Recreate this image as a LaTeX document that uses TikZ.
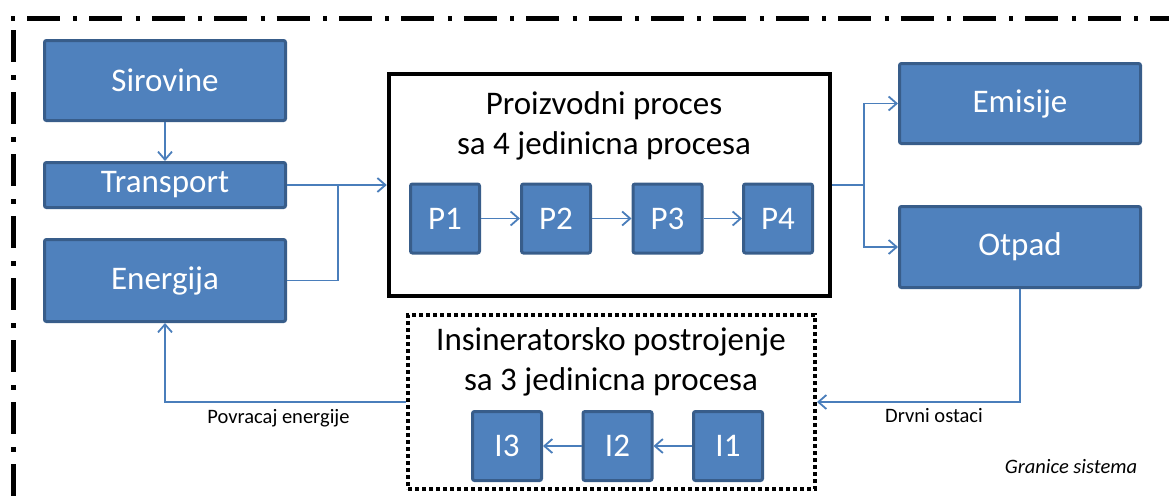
\documentclass[tikz,border=0pt]{standalone}
\usepackage{fontspec}
\setmainfont{Carlito}
\usetikzlibrary{arrows.meta}
\definecolor{boxfill}{HTML}{4F81BD}
\definecolor{boxedge}{HTML}{385D8A}
\definecolor{connblue}{HTML}{4A7EBB}
\begin{document}
\begin{tikzpicture}[x=1pt,y=-1pt,
  bluebox/.style={draw=boxedge, line width=3pt, fill=boxfill, text=white,
    font=\fontsize{33}{39}\selectfont, rounded corners=2pt, inner sep=0pt},
  bigbox/.style={bluebox, minimum width=241pt},
  smallbox/.style={bluebox, minimum width=69pt, minimum height=69pt},
  conn/.style={draw=connblue, line width=1.8pt, -{Straight Barb[length=8pt,width=14pt]}},
  plainconn/.style={draw=connblue, line width=1.8pt},
  title/.style={align=center, inner sep=0pt, font=\fontsize{33}{39.5}\selectfont},
  smalllabel/.style={inner sep=0pt, font=\fontsize{20.5}{24}\selectfont},
  boundary/.style={line width=5pt}
]
\useasboundingbox (0,0) rectangle (1169,498);

% system boundary (dash-dot)
\draw[boundary, dash pattern=on 4pt off 12pt on 33pt off 13.4pt] (11,18) -- (1169,18);
\draw[boundary, dash pattern=on 32pt off 13pt on 5pt off 12pt] (13,30) -- (13,498);

% left boxes
\node[bigbox, minimum height=80pt] (sir) at (165,80.5) {Sirovine};
\node[bigbox, minimum height=45pt] (tra) at (165,185) {Transport};
\node[bigbox, minimum height=82pt] (ene) at (165,280.5) {Energija};

% right boxes
\node[bigbox, minimum height=80pt] (emi) at (1020,103.5) {Emisije};
\node[bigbox, minimum height=81pt] (otp) at (1020,247) {Otpad};

% production process
\node[draw=black, line width=4.5pt, minimum width=441pt, minimum height=222pt, inner sep=0pt] (main) at (609.5,185) {};
\node[title] (maint) at (604,126) {Proizvodni proces\\sa 4 jedinicna procesa};
\node[smallbox] (p1) at (445,218.5) {P1};
\node[smallbox] (p2) at (556,218.5) {P2};
\node[smallbox] (p3) at (667.5,218.5) {P3};
\node[smallbox] (p4) at (778,218.5) {P4};

% incinerator
\node[draw=black, line width=4pt, dash pattern=on 4pt off 3pt, minimum width=407pt, minimum height=174pt, inner sep=0pt] (ins) at (611.5,402) {};
\node[title] (inst) at (611,362) {Insineratorsko postrojenje\\sa 3 jedinicna procesa};
\node[smallbox] (i3) at (507,446) {I3};
\node[smallbox] (i2) at (617.5,446) {I2};
\node[smallbox] (i1) at (728,446) {I1};

% junctions
\coordinate (j1) at (338,185);
\coordinate (j2) at (864,185);

% connectors
\draw[conn] (sir.south) -- (tra.north);
\draw[conn] (tra.east) -- (main.west);
\draw[plainconn] (ene.east) -| (j1);
\draw[plainconn] (main.east) -- (j2);
\draw[conn] (j2) |- (emi.west);
\draw[conn] (j2) |- (otp.west);
\draw[conn] (p1) -- (p2);
\draw[conn] (p2) -- (p3);
\draw[conn] (p3) -- (p4);
\draw[conn] (i1) -- (i2);
\draw[conn] (i2) -- (i3);
\draw[conn] (otp.south) |- (ins.east);
\draw[conn] (ins.west) -| (ene.south);

% labels
\node[smalllabel] (lpov) at (278.5,418) {Povracaj energije};
\node[smalllabel] (ldrv) at (934,416) {Drvni ostaci};
\node[smalllabel, font=\fontsize{20.5}{24}\selectfont\itshape] (lgran) at (1071,467) {Granice sistema};
\end{tikzpicture}
\end{document}
